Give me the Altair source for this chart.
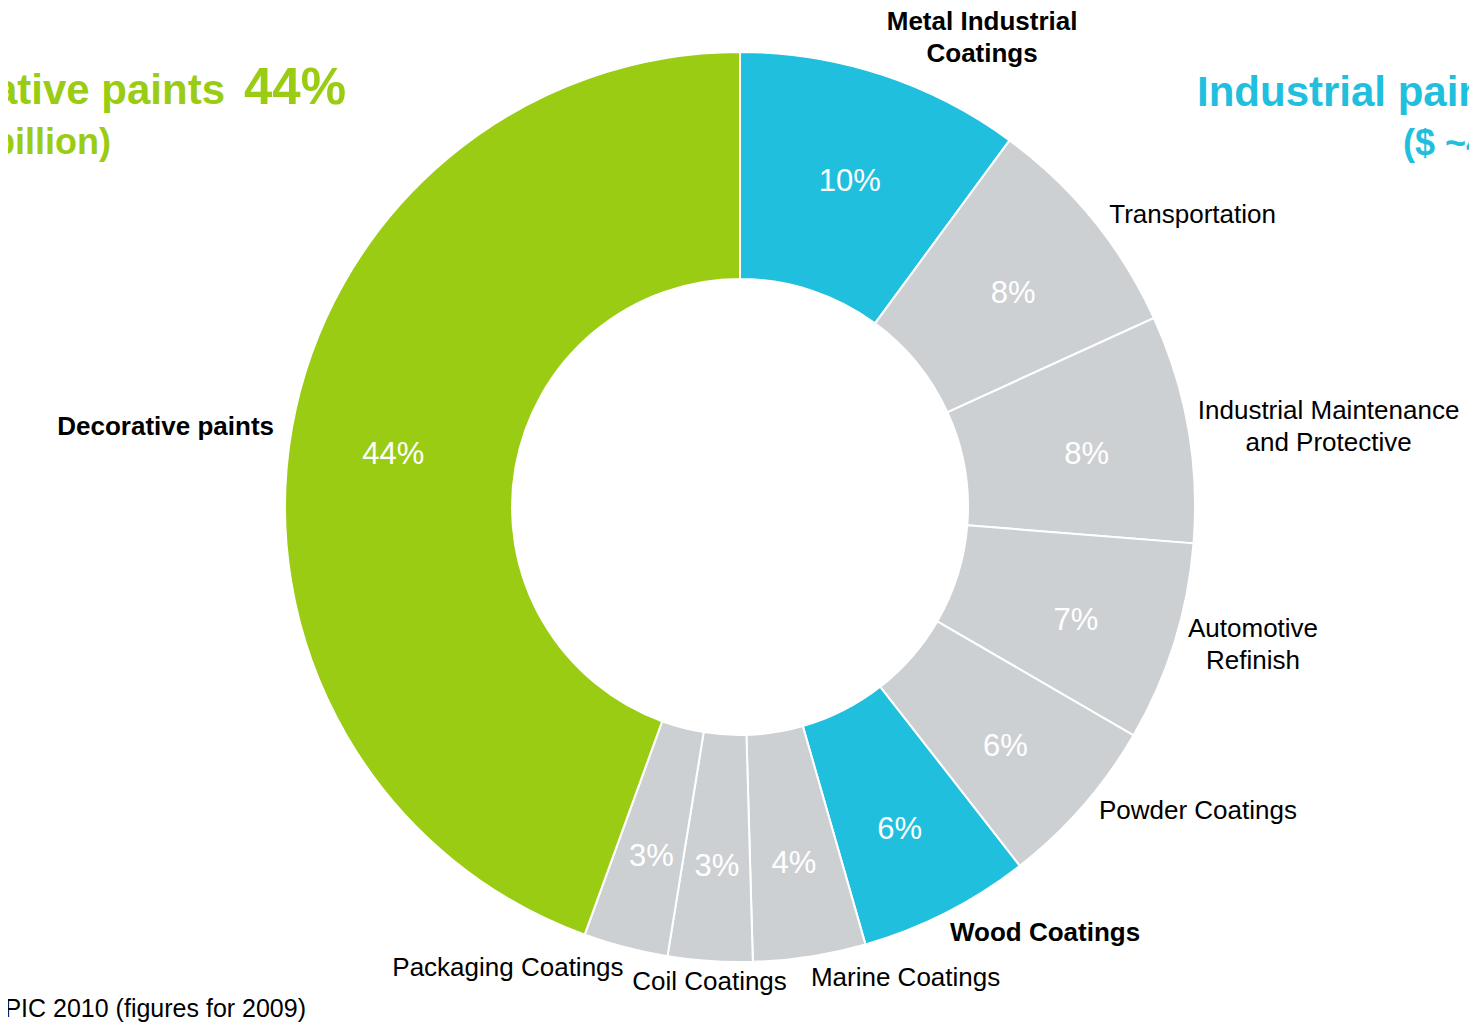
import math
import numpy as np
import pandas as pd
import altair as alt

# ---------------- data ----------------
categories = [
    "Metal Industrial Coatings", "Transportation",
    "Industrial Maintenance and Protective", "Automotive Refinish",
    "Powder Coatings", "Wood Coatings", "Marine Coatings",
    "Coil Coatings", "Packaging Coatings", "Decorative paints",
]
label_text = [
    "Metal Industrial\nCoatings", "Transportation",
    "Industrial Maintenance\nand Protective", "Automotive\nRefinish",
    "Powder Coatings", "Wood Coatings", "Marine Coatings",
    "Coil Coatings", "Packaging Coatings", "Decorative paints",
]
shares = [10.1, 8.1, 8.1, 7.1, 6.1, 6.1, 4.0, 3.0, 3.0, 44.5]
pct_labels = ["10%", "8%", "8%", "7%", "6%", "6%", "4%", "3%", "3%", "44%"]
highlighted = [True, False, False, False, False, True, False, False, False, True]

left_title = "Decorative paints"
left_title_pct = "44%"
left_sub = "($ ~35 billion)"
right_title = "Industrial paints 56%"
right_sub = "($ ~45 billion)"
source_text = "Source: IPPIC 2010 (figures for 2009)"

# ---------------- styles ----------------
GREEN = "#99CC13"
BLUE = "#1FBFDD"
GREY = "#CDD0D3"
seg_colors = [BLUE, GREY, GREY, GREY, GREY, BLUE, GREY, GREY, GREY, GREEN]
FONT = "Liberation Sans"
W, H = 1461, 1017
CX, CY = 732, 499
R_OUT, R_IN = 455, 228
LABEL_R = 463
LABEL_FS = 26
LABEL_LH = 32
SIDE_PAD = 10
EDGE_GAP = 6

# ---------------- table ----------------
vals = np.array(shares, dtype=float)
total = vals.sum()
cum = np.cumsum(vals)
start = (cum - vals) / total
end = cum / total
mid = (start + end) / 2
ang = mid * 2 * math.pi

def h_align(a):
    s = math.sin(a)
    return "left" if s > 0.1 else ("right" if s < -0.1 else "center")

def v_base(a):
    c = math.cos(a)
    return "bottom" if c > 0.7 else ("top" if c < -0.7 else "middle")

df = pd.DataFrame({
    "category": categories,
    "label": label_text,
    "pct": pct_labels,
    "start": start,
    "end": end,
    "mid": mid,
    "bold": highlighted,
    "align": [h_align(a) for a in ang],
    "baseline": [v_base(a) for a in ang],
})

theta_scale = alt.Scale(domain=[0, 1], range=[0, 2 * math.pi])

base = alt.Chart(df)

arcs = base.mark_arc(radius=R_OUT, radius2=R_IN, stroke="white", strokeWidth=2).encode(
    theta=alt.Theta("start:Q", scale=theta_scale),
    theta2="end:Q",
    color=alt.Color("category:N", scale=alt.Scale(domain=categories, range=seg_colors), legend=None),
    x=alt.value(CX), y=alt.value(CY),
)

pcts = base.mark_text(radius=352, dy=9, font=FONT, fontSize=31, color="white",
                      align="center", baseline="middle").encode(
    theta=alt.Theta("mid:Q", scale=theta_scale),
    text="pct:N",
    x=alt.value(CX), y=alt.value(CY),
)

layers = [arcs, pcts]

# outside labels: anchored at the slice's mid angle; multi-line blocks are
# centred line by line, shifted so the block keeps its anchor side, and
# kept inside the canvas.
for row, a in zip(df.itertuples(index=False), ang):
    lines = row.label.split("\n")
    n = len(lines)
    est_w = 0.47 * LABEL_FS * max(len(s) for s in lines)
    ax = CX + LABEL_R * math.sin(a)
    al, dx = row.align, 0.0
    if row.baseline == "middle" and al != "center":
        dx = SIDE_PAD if al == "left" else -SIDE_PAD
    if n > 1 and al != "center":
        dx += est_w / 2 if al == "left" else -est_w / 2
        al = "center"
        dx = min(dx, W - EDGE_GAP - est_w / 2 - ax)
    elif al == "left":
        dx = min(dx, W - EDGE_GAP - est_w - ax)
    if row.baseline == "bottom":
        dy = -(n - 1) * LABEL_LH
    elif row.baseline == "middle":
        dy = -(n - 1) * LABEL_LH / 2
    else:
        dy = 0
    sub = base.transform_filter(alt.datum.category == row.category).mark_text(
        radius=LABEL_R, font=FONT, fontSize=LABEL_FS, color="black",
        fontWeight="bold" if row.bold else "normal",
        align=al, baseline=row.baseline, lineBreak="\n", lineHeight=LABEL_LH,
        dx=dx, dy=dy,
    ).encode(
        theta=alt.Theta("mid:Q", scale=theta_scale),
        text="label:N",
        x=alt.value(CX), y=alt.value(CY),
    )
    layers.append(sub)

def note(text, x, y, size, color, align, weight="bold"):
    return alt.Chart(pd.DataFrame({"t": [text]})).mark_text(
        font=FONT, fontSize=size, fontWeight=weight, color=color,
        align=align, baseline="alphabetic", clip=True,
    ).encode(text="t:N", x=alt.value(x), y=alt.value(y))

layers += [
    note(left_title, 217, 96, 42, GREEN, "right"),
    note(left_title_pct, 338, 96, 51, GREEN, "right"),
    note(left_sub, 103, 146, 36, GREEN, "right"),
    note(right_title, 1189, 98, 42, BLUE, "left"),
    note(right_sub, 1395, 147, 36, BLUE, "left"),
    note(source_text, 298, 1009, 25, "black", "right", weight="normal"),
]

chart = alt.layer(*layers).properties(
    width=W, height=H,
    autosize=alt.AutoSizeParams(type="none"),
    padding=0,
).configure_view(strokeWidth=0)

chart.save("out.html", embed_options={"renderer": "svg", "actions": False})
